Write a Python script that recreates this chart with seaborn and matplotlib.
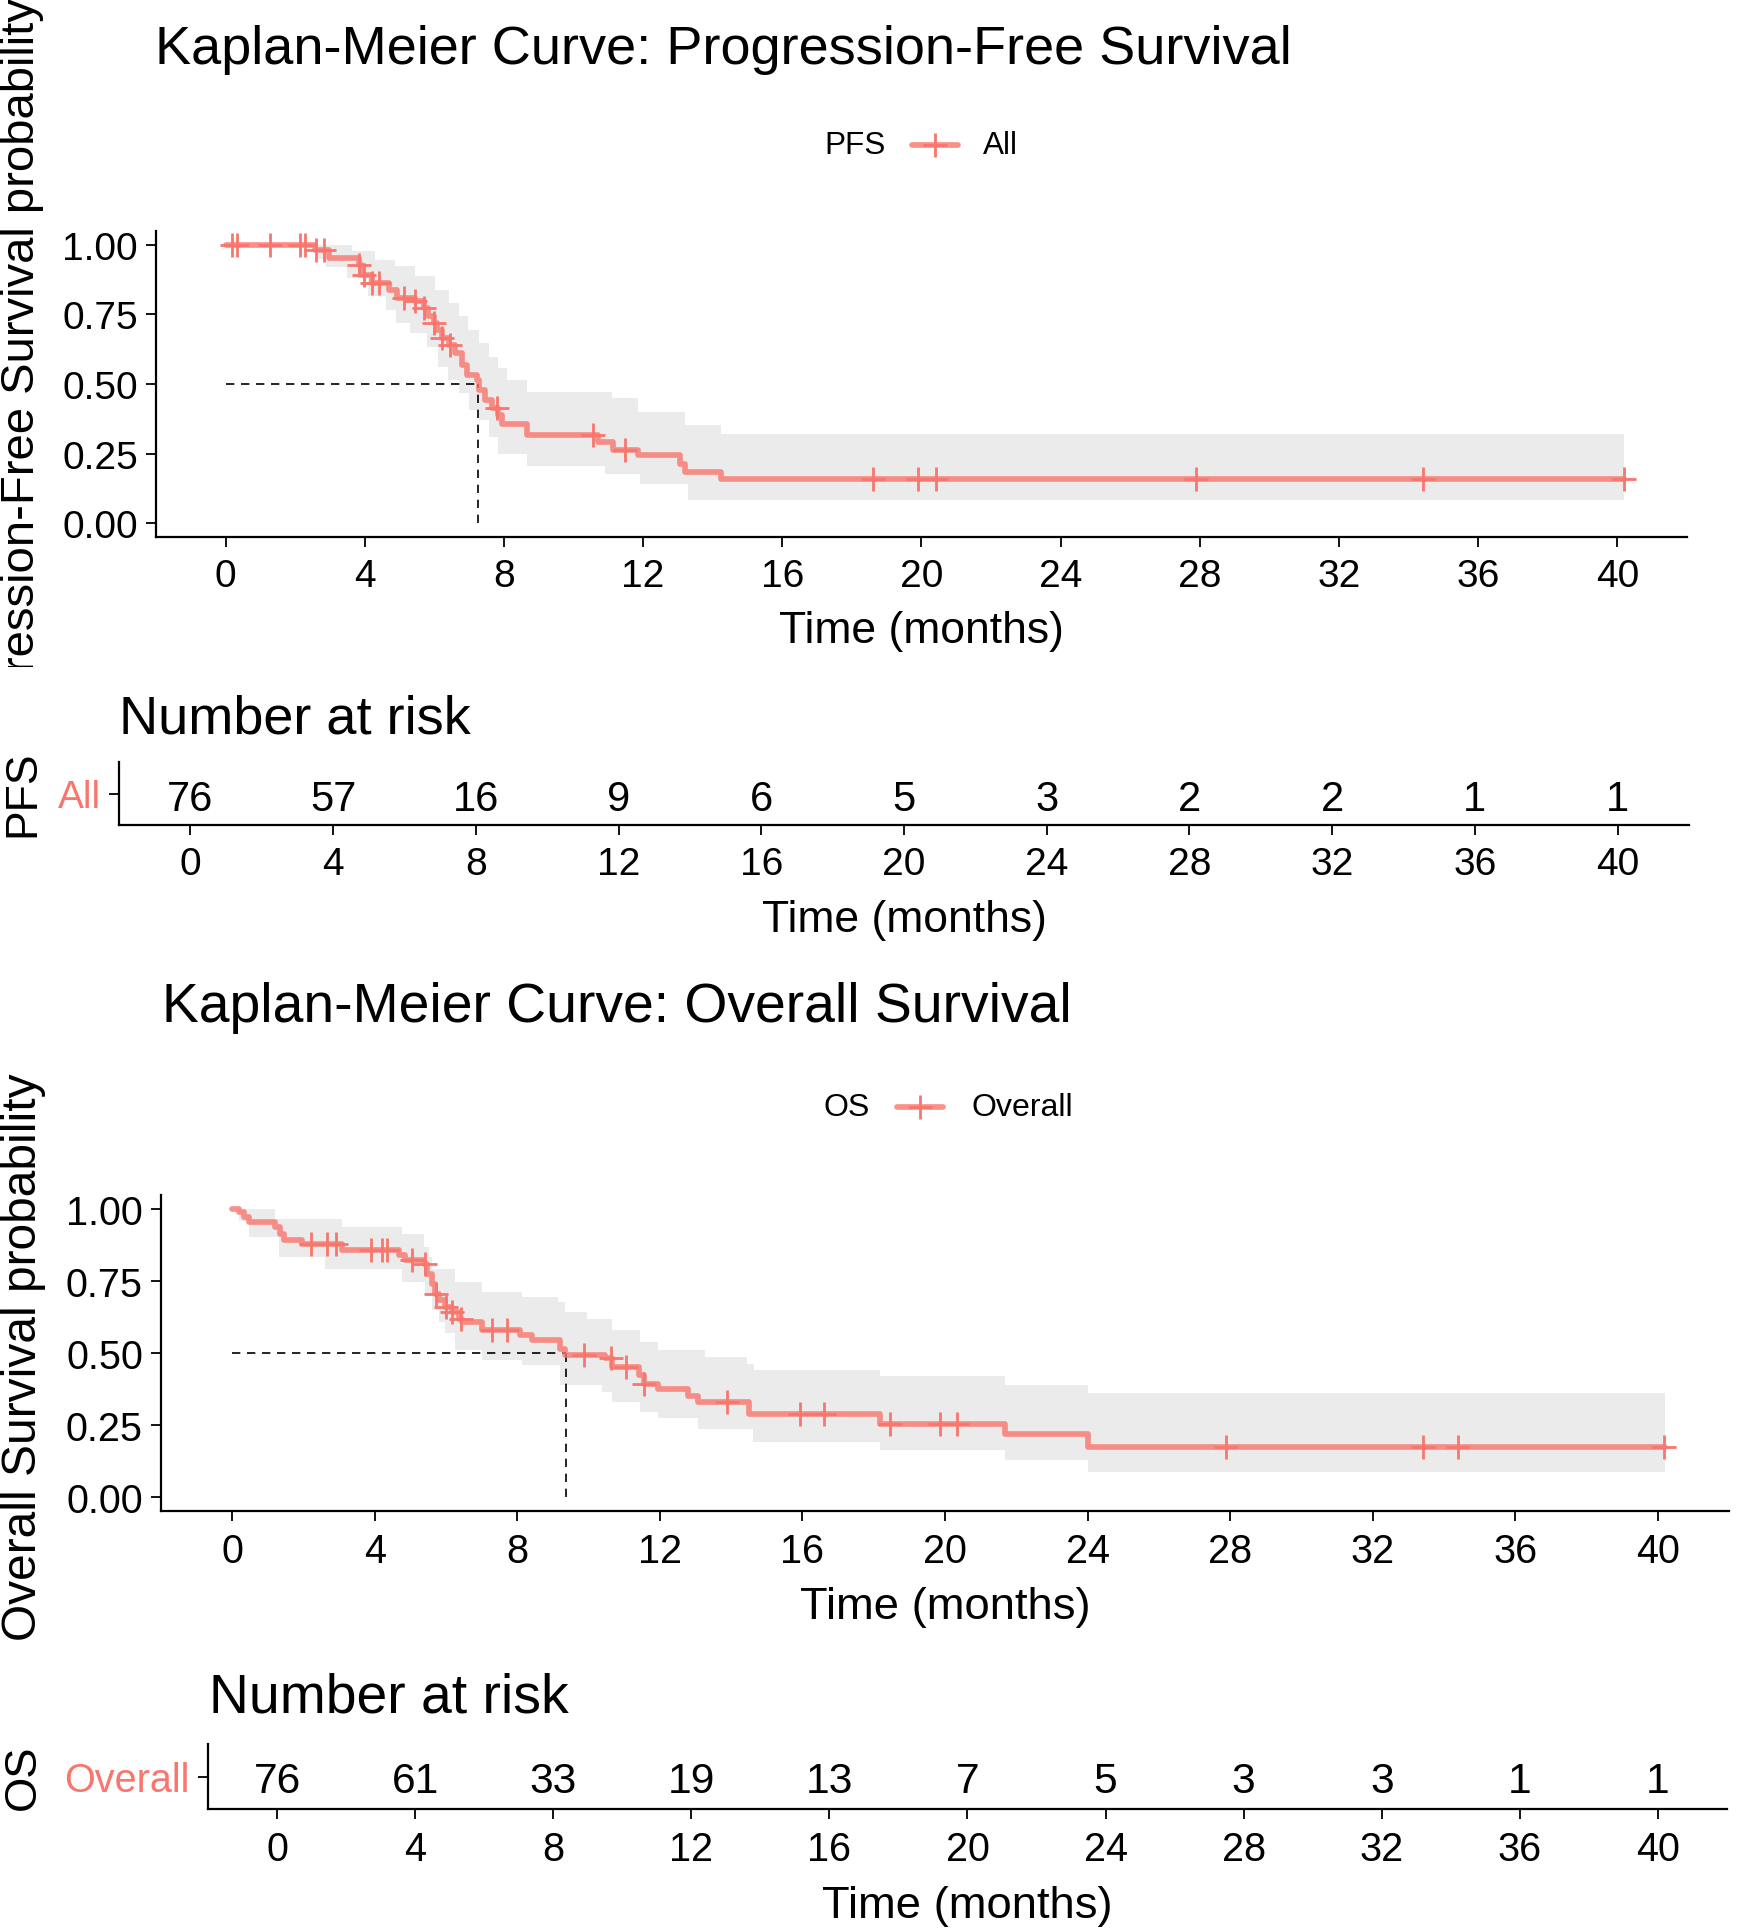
import numpy as np
import pandas as pd
import matplotlib
matplotlib.use("Agg")
import matplotlib.pyplot as plt
import matplotlib.transforms as mtransforms
import seaborn as sns
from matplotlib.lines import Line2D

# ---------------- data ----------------
# PFS Kaplan-Meier step function (time of step, survival after step)
pfs_time = [0, 2.58, 2.97, 3.82, 3.92, 4.21, 4.69, 4.93, 5.45, 5.69, 5.83, 5.98, 6.07, 6.22,
            6.41, 6.60, 6.79, 6.93, 7.22, 7.27, 7.46, 7.65, 7.84, 7.94, 8.66, 10.71, 11.14,
            11.86, 13.05, 13.20, 14.25]
pfs_surv = [1.0, 0.983, 0.953, 0.929, 0.893, 0.863, 0.839, 0.809, 0.797, 0.773, 0.743, 0.719,
            0.695, 0.665, 0.640, 0.610, 0.568, 0.532, 0.514, 0.478, 0.442, 0.412, 0.388, 0.356,
            0.315, 0.291, 0.261, 0.243, 0.213, 0.183, 0.159]
pfs_end = 40.2
pfs_upper_time = [0, 2.8, 3.63, 4.3, 4.88, 5.45, 6.03, 6.41, 6.7, 6.98, 7.27, 7.56, 7.84, 8.1,
                  8.66, 11.1, 11.86, 13.2, 14.25]
pfs_upper = [1.0, 1.0, 0.977, 0.947, 0.923, 0.887, 0.839, 0.791, 0.743, 0.695, 0.646, 0.598,
             0.556, 0.514, 0.472, 0.448, 0.40, 0.352, 0.322]
pfs_lower_time = [0, 2.6, 2.9, 3.5, 4.1, 4.6, 4.9, 5.3, 5.8, 6.1, 6.4, 6.7, 7.0, 7.27, 7.56,
                  7.84, 8.66, 10.9, 11.9, 13.3]
pfs_lower = [1.0, 0.95, 0.92, 0.881, 0.815, 0.767, 0.719, 0.683, 0.634, 0.562, 0.514, 0.466,
             0.406, 0.37, 0.31, 0.25, 0.207, 0.177, 0.141, 0.083]
pfs_censor = [0.19, 0.33, 1.29, 2.15, 2.27, 2.6, 2.82, 3.82, 3.97, 4.21, 4.40, 5.12, 5.45,
              5.69, 5.98, 6.22, 6.46, 7.79, 10.57, 11.48, 18.6, 19.91, 20.42, 27.9, 34.4, 40.19]
pfs_median = 7.25

# OS Kaplan-Meier step function
os_time = [0, 0.18, 0.32, 0.46, 1.21, 1.35, 1.44, 1.95, 3.08, 4.67, 4.85, 5.37, 5.46, 5.6,
           5.69, 5.79, 5.97, 6.16, 6.35, 6.44, 7.0, 8.08, 8.41, 9.2, 9.34, 10.46, 10.65, 11.4,
           11.54, 11.96, 12.8, 13.08, 14.5, 18.18, 21.68, 24.0]
os_surv = [1.0, 0.991, 0.973, 0.956, 0.938, 0.915, 0.892, 0.881, 0.857, 0.840, 0.823, 0.811,
           0.776, 0.741, 0.707, 0.683, 0.660, 0.643, 0.620, 0.608, 0.579, 0.561, 0.544, 0.515,
           0.492, 0.481, 0.451, 0.422, 0.393, 0.376, 0.352, 0.329, 0.289, 0.254, 0.217, 0.173]
os_end = 40.2
os_upper_time = [0, 1.21, 3.08, 4.76, 5.37, 5.51, 5.6, 6.25, 7.0, 8.12, 9.15, 9.34, 9.95,
                 10.65, 11.44, 11.96, 13.27, 14.44, 14.63, 18.18, 21.68, 24.0]
os_upper = [1.0, 0.968, 0.939, 0.915, 0.869, 0.834, 0.794, 0.747, 0.712, 0.695, 0.677, 0.643,
            0.62, 0.579, 0.538, 0.509, 0.486, 0.462, 0.44, 0.419, 0.388, 0.362]
os_lower_time = [0, 0.18, 0.46, 1.3, 2.61, 4.76, 5.41, 5.6, 5.79, 5.97, 6.25, 7.0, 8.12, 9.2,
                 10.37, 10.65, 11.44, 11.96, 13.08, 14.62, 18.18, 21.68, 24.0]
os_lower = [1.0, 0.96, 0.904, 0.834, 0.794, 0.747, 0.707, 0.649, 0.608, 0.568, 0.509, 0.474,
            0.457, 0.388, 0.364, 0.329, 0.295, 0.272, 0.237, 0.19, 0.164, 0.126, 0.085]
os_censor = [2.2, 2.65, 2.9, 3.9, 4.2, 4.35, 5.05, 5.4, 5.73, 6.0, 6.16, 6.42, 7.28, 7.7, 9.88,
             10.62, 11.05, 11.55, 13.88, 15.92, 16.6, 18.46, 19.86, 20.33, 27.88, 33.42, 34.39,
             40.17]
os_median = 9.36

# Number at risk
risk_times = [0, 4, 8, 12, 16, 20, 24, 28, 32, 36, 40]
pfs_risk = [76, 57, 16, 9, 6, 5, 3, 2, 2, 1, 1]
os_risk = [76, 61, 33, 19, 13, 7, 5, 3, 3, 1, 1]
y_ticks = [0.0, 0.25, 0.50, 0.75, 1.00]
y_ticklabels = ["0.00", "0.25", "0.50", "0.75", "1.00"]

# ---------------- style ----------------
sns.set_theme(style="ticks")
plt.rcParams["font.family"] = ["Liberation Sans", "DejaVu Sans"]
for key in ["text.color", "axes.labelcolor", "xtick.color", "ytick.color", "axes.edgecolor"]:
    plt.rcParams[key] = "black"

RED = "#F8766D"
BAND = "#EBEBEB"
LINE_W = 4.1
LINE_A = 0.8
W, H = 1740, 1933
fig = plt.figure(figsize=(W / 100, H / 100), dpi=100)
fig.patch.set_facecolor("white")


def fx(px):
    return px / W


def fy(py):
    return 1 - py / H


def rect(l, t, r, b):
    return [l / W, 1 - b / H, (r - l) / W, (b - t) / H]


def step_at(times, vals, t):
    times = np.asarray(times)
    idx = np.searchsorted(times, np.asarray(t), side="right") - 1
    return np.asarray(vals)[np.clip(idx, 0, len(vals) - 1)]


def style_axes(ax, k):
    sns.despine(ax=ax)
    for s in ["left", "bottom"]:
        ax.spines[s].set_color("black")
        ax.spines[s].set_linewidth(1.6)
    ax.tick_params(axis="both", direction="out", length=7, width=1.3, color="black",
                   labelsize=28 * k, labelcolor="black", pad=6)
    ax.tick_params(axis="x", pad=8)
    ax.set_xlim(-2, 42)
    ax.set_xticks(risk_times)
    ax.set_xticklabels([str(t) for t in risk_times])


def set_xlabel(ax, xy, k):
    ax.set_xlabel("Time (months)", fontsize=32 * k, color="black")
    ax.xaxis.set_label_coords(fx(xy[0]), fy(xy[1]), transform=fig.transFigure)
    ax.xaxis.label.set_va("center")


def km_panel(r, times, surv, end, ut, up, lt, lo, cens, median, xlab_xy, k):
    ax = fig.add_axes(r)
    grid = np.unique(np.concatenate([times, ut, lt, [end]]))
    upper = step_at(ut, up, grid)
    lower = step_at(lt, lo, grid)
    ax.fill_between(grid, lower, upper, step="post", color=BAND, lw=0, zorder=1)
    ax.plot([0, median], [0.5, 0.5], color="black", lw=1.2, ls=(0, (5, 4)), zorder=2)
    ax.plot([median, median], [0, 0.5], color="black", lw=1.2, ls=(0, (5, 4)), zorder=2)
    df = pd.DataFrame({"time": list(times) + [end], "surv": list(surv) + [surv[-1]]})
    sns.lineplot(data=df, x="time", y="surv", drawstyle="steps-post", estimator=None,
                 sort=False, color=RED, lw=LINE_W, alpha=LINE_A, ax=ax, zorder=3)
    cdf = pd.DataFrame({"time": cens, "surv": step_at(times, surv, cens)})
    sns.scatterplot(data=cdf, x="time", y="surv", marker="+", s=290, color=RED,
                    linewidth=2.0, ax=ax, zorder=4)
    ax.set_ylim(-0.05, 1.05)
    ax.set_yticks(y_ticks)
    ax.set_yticklabels(y_ticklabels)
    style_axes(ax, k)
    ax.set_ylabel("")
    set_xlabel(ax, xlab_xy, k)
    return ax


def risk_panel(r, risk, group, xlab_xy, k, dy):
    ax = fig.add_axes(r)
    trans = mtransforms.offset_copy(ax.transData, fig=fig, x=0, y=-dy, units="dots")
    for t, n in zip(risk_times, risk):
        ax.text(t, 0, str(n), ha="center", va="center", fontsize=30 * k, color="black",
                transform=trans)
    ax.set_ylim(-0.5, 0.5)
    ax.set_yticks([0])
    ax.set_yticklabels([group])
    style_axes(ax, k)
    ax.get_yticklabels()[0].set_color(RED)
    ax.set_ylabel("")
    set_xlabel(ax, xlab_xy, k)
    return ax


def legend(y, title, label, x_title, x_key, x_label, k):
    fig.text(fx(x_title), fy(y), title, ha="left", va="center", fontsize=22.7 * k)
    fig.add_artist(Line2D([fx(x_key - 23), fx(x_key + 23)], [fy(y), fy(y)], color=RED,
                          lw=LINE_W, alpha=LINE_A, transform=fig.transFigure))
    fig.add_artist(Line2D([fx(x_key)], [fy(y)], marker="+", ms=17, mew=2.0, color=RED,
                          ls="none", transform=fig.transFigure))
    fig.text(fx(x_label), fy(y), label, ha="left", va="center", fontsize=22.7 * k)


# ---------------- PFS ----------------
k1 = 1.0
fig.text(fx(155), fy(50), "Kaplan-Meier Curve: Progression-Free Survival", ha="left",
         va="center", fontsize=39 * k1)
legend(146, "PFS", "All", 824, 935, 983, k1)
km_panel(rect(156, 232, 1687, 538), pfs_time, pfs_surv, pfs_end, pfs_upper_time, pfs_upper,
         pfs_lower_time, pfs_lower, pfs_censor, pfs_median, (921, 632), k1)
# the reference clips this label at the bottom of the survival-plot panel
ylab1 = fig.text(fx(22), fy(385), "Progression-Free Survival probability", rotation=90,
                 ha="center", va="center", fontsize=34 * k1)
clip1 = mtransforms.TransformedBbox(mtransforms.Bbox([[0, fy(668)], [0.2, 1.0]]),
                                    fig.transFigure)
ylab1.set_clip_box(clip1)
ylab1.set_clip_on(True)

fig.text(fx(119), fy(720), "Number at risk", ha="left", va="center", fontsize=39 * k1)
risk_panel(rect(119, 763, 1689, 826), pfs_risk, "All", (904, 921), k1, 6)
fig.text(fx(23), fy(794), "PFS", rotation=90, ha="center", va="center", fontsize=32 * k1)

# ---------------- OS ----------------
k2 = 1.02
fig.text(fx(162), fy(1008), "Kaplan-Meier Curve: Overall Survival", ha="left",
         va="center", fontsize=39 * k2)
legend(1108, "OS", "Overall", 824, 920, 972, k2)
km_panel(rect(161, 1196, 1729, 1512), os_time, os_surv, os_end, os_upper_time, os_upper,
         os_lower_time, os_lower, os_censor, os_median, (945, 1608), k2)
fig.text(fx(24), fy(1357), "Overall Survival probability", rotation=90, ha="center",
         va="center", fontsize=34.5)

fig.text(fx(209), fy(1699), "Number at risk", ha="left", va="center", fontsize=39 * k2)
risk_panel(rect(208, 1745, 1727, 1810), os_risk, "Overall", (967, 1907), k2, 5)
fig.text(fx(23), fy(1777), "OS", rotation=90, ha="center", va="center", fontsize=32 * k2)

fig.savefig("out.png", dpi=100, facecolor="white")
